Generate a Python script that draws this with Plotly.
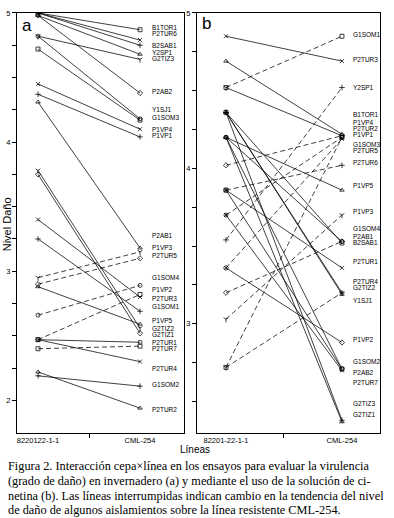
import plotly.graph_objects as go

# ---------------- Panel a data (invernadero) ----------------
strains_a = ["B1TOR1", "P2TUR6", "B2SAB1", "Y2SP1", "G2TIZ3", "P2AB2", "Y1SJ1", "G1SOM3",
             "P1VP4", "P1VP1", "P2AB1", "P1VP3", "P2TUR5", "G1SOM4", "P1VP2", "P2TUR3",
             "G1SOM1", "P1VP5", "G2TIZ2", "G2TIZ1", "P2TUR1", "P2TUR7", "P2TUR4", "G1SOM2", "P2TUR2"]
left_a = [5.00, 5.00, 5.00, 4.98, 4.82, 4.98, 4.82, 4.72,
          4.45, 4.37, 4.31, 2.95, 2.90, 2.66, 2.47, 3.40,
          3.25, 2.88, 3.78, 3.75, 2.47, 2.40, 2.47, 2.19, 2.22]
right_a = [4.87, 4.79, 4.75, 4.68, 4.64, 4.38, 4.18, 4.17,
           4.10, 4.04, 3.18, 3.15, 3.10, 2.89, 2.82, 2.80,
           2.69, 2.59, 2.56, 2.52, 2.45, 2.42, 2.30, 2.11, 1.94]
dashed_a = [0, 0, 0, 0, 0, 0, 0, 0,
            0, 0, 0, 1, 1, 1, 1, 0,
            0, 0, 0, 0, 0, 1, 0, 0, 0]
label_y_a = [4.89, 4.84, 4.75, 4.69, 4.65, 4.39, 4.25, 4.19,
             4.10, 4.05, 3.28, 3.18, 3.12, 2.95, 2.86, 2.79,
             2.73, 2.62, 2.56, 2.51, 2.45, 2.40, 2.25, 2.12, 1.93]

# ---------------- Panel b data (cinetina) ----------------
strains_b = ["G1SOM1", "P2TUR3", "Y2SP1", "B1TOR1", "P1VP4", "P2TUR2", "P1VP1", "G1SOM3",
             "P2TUR5", "P2TUR6", "P1VP5", "P1VP3", "G1SOM4", "P2AB1", "B2SAB1", "P2TUR1",
             "P2TUR4", "G2TIZ2", "Y1SJ1", "P1VP2", "G1SOM2", "P2AB2", "P2TUR7", "G2TIZ3", "G2TIZ1"]
left_b = [4.52, 4.85, 3.54, 4.69, 4.52, 4.02, 3.70, 2.72,
          3.36, 3.86, 4.20, 3.03, 3.20, 4.20, 4.36, 3.86,
          4.36, 4.36, 2.72, 3.36, 4.20, 3.86, 3.70, 4.36, 4.20]
right_b = [4.85, 4.69, 4.52, 4.22, 4.21, 4.21, 4.20, 4.20,
           4.19, 4.02, 3.86, 3.70, 3.53, 3.53, 3.52, 3.36,
           3.20, 3.19, 3.20, 2.88, 2.71, 2.71, 2.70, 2.38, 2.37]
dashed_b = [1, 0, 1, 0, 0, 1, 1, 1,
            1, 1, 0, 1, 1, 0, 0, 0,
            0, 0, 1, 0, 0, 0, 0, 0, 0]
label_y_b = [4.86, 4.70, 4.52, 4.345, 4.295, 4.255, 4.215, 4.155,
             4.115, 4.04, 3.89, 3.72, 3.615, 3.565, 3.525, 3.40,
             3.275, 3.235, 3.15, 2.90, 2.76, 2.69, 2.62, 2.49, 2.42]

x_cats_a = ["8220122-1-1", "CML-254"]
x_cats_b = ["82201-22-1-1", "CML-254"]

caption = [
    "Figura 2. Interacción cepa×línea en los ensayos para evaluar la virulencia",
    "(grado de daño) en invernadero (a) y mediante el uso de la solución de ci-",
    "netina (b). Las líneas interrumpidas indican cambio en la tendencia del nivel",
    "de daño de algunos aislamientos sobre la línea resistente CML-254.",
]

W, H = 394, 518
symbols = ["square-open", "x-thin-open", "cross-thin-open", "triangle-up-open",
           "y-down-open", "diamond-open", "circle-open"]

fig = go.Figure()


def add_panel(names, left, right, dashed, xa, ya):
    for i, (n, l, r, d) in enumerate(zip(names, left, right, dashed)):
        fig.add_trace(go.Scatter(
            x=[0, 1], y=[l, r], mode="lines+markers", name=n,
            xaxis=xa, yaxis=ya, showlegend=False, hoverinfo="skip",
            line=dict(color="black", width=0.75, dash="5px,3px" if d else "solid"),
            marker=dict(symbol=symbols[i % len(symbols)], size=4, color="black",
                        line=dict(width=0.75, color="black")),
        ))


add_panel(strains_a, left_a, right_a, dashed_a, "x", "y")
add_panel(strains_b, left_b, right_b, dashed_b, "x2", "y2")

ann = []
for n, yv in zip(strains_a, label_y_a):
    ann.append(dict(x=1, y=yv, xref="x", yref="y", text=n, showarrow=False,
                    xanchor="left", yanchor="middle", xshift=10,
                    font=dict(size=6.5, family="Liberation Sans", color="black")))
for n, yv in zip(strains_b, label_y_b):
    ann.append(dict(x=1, y=yv, xref="x2", yref="y2", text=n, showarrow=False,
                    xanchor="left", yanchor="middle", xshift=9,
                    font=dict(size=6.5, family="Liberation Sans", color="black")))

ann.append(dict(x=20 / W, y=1 - 22 / H, xref="paper", yref="paper", text="a", showarrow=False,
                xanchor="left", yanchor="middle", font=dict(size=17, family="Liberation Sans", color="black")))
ann.append(dict(x=200 / W, y=1 - 20 / H, xref="paper", yref="paper", text="b", showarrow=False,
                xanchor="left", yanchor="middle", font=dict(size=17, family="Liberation Sans", color="black")))
ann.append(dict(x=7 / W, y=1 - 222 / H, xref="paper", yref="paper", text="Nivel Daño", showarrow=False,
                textangle=-90, xanchor="center", yanchor="middle",
                font=dict(size=11, family="Liberation Sans", color="black")))
ann.append(dict(x=195 / W, y=1 - 449 / H, xref="paper", yref="paper", text="Líneas", showarrow=False,
                xanchor="center", yanchor="middle",
                font=dict(size=10, family="Liberation Sans", color="black")))
for k, line in enumerate(caption):
    ann.append(dict(x=7 / W, y=1 - (466 + 14.7 * k) / H, xref="paper", yref="paper", text=line,
                    showarrow=False, xanchor="left", yanchor="middle", borderpad=0,
                    font=dict(size=12.3, family="Liberation Serif", color="black")))

axis_common = dict(showline=True, mirror=True, linecolor="black", linewidth=1,
                   showgrid=False, zeroline=False, tickcolor="black",
                   tickfont=dict(size=7.5, family="Liberation Sans", color="black"))

yt_a = [2 + 0.25 * i for i in range(13)]
yt_b = [2.5 + 0.25 * i for i in range(11)]

fig.update_layout(
    width=W, height=H, margin=dict(l=0, r=0, t=0, b=0),
    paper_bgcolor="white", plot_bgcolor="white",
    annotations=ann,
    xaxis=dict(domain=[17 / W, 184 / W], range=[-0.206, 1.431], tickvals=[0, 1], ticktext=x_cats_a,
               ticks="", minor=dict(tickvals=[0.5], ticks="outside", ticklen=4, tickcolor="black"),
               anchor="y", **axis_common),
    yaxis=dict(domain=[1 - 432 / H, 1 - 9 / H], range=[1.75, 5.0], tickvals=yt_a,
               ticktext=[str(int(v)) if v == int(v) else "" for v in yt_a],
               ticks="outside", ticklen=4, anchor="x", **axis_common),
    xaxis2=dict(domain=[197 / W, 380 / W], range=[-0.25, 1.328], tickvals=[0, 1], ticktext=x_cats_b,
                ticks="", minor=dict(tickvals=[0.5], ticks="outside", ticklen=4, tickcolor="black"),
                anchor="y2", **axis_common),
    yaxis2=dict(domain=[1 - 432 / H, 1 - 9 / H], range=[2.30, 5.0], tickvals=yt_b,
                ticktext=[str(int(v)) if v == int(v) else "" for v in yt_b],
                ticks="outside", ticklen=4, anchor="x2", **axis_common),
)

fig.write_html("out.html", config={"displayModeBar": False, "staticPlot": True},
               post_script="document.body.style.margin='0px';document.body.style.overflow='hidden';")
